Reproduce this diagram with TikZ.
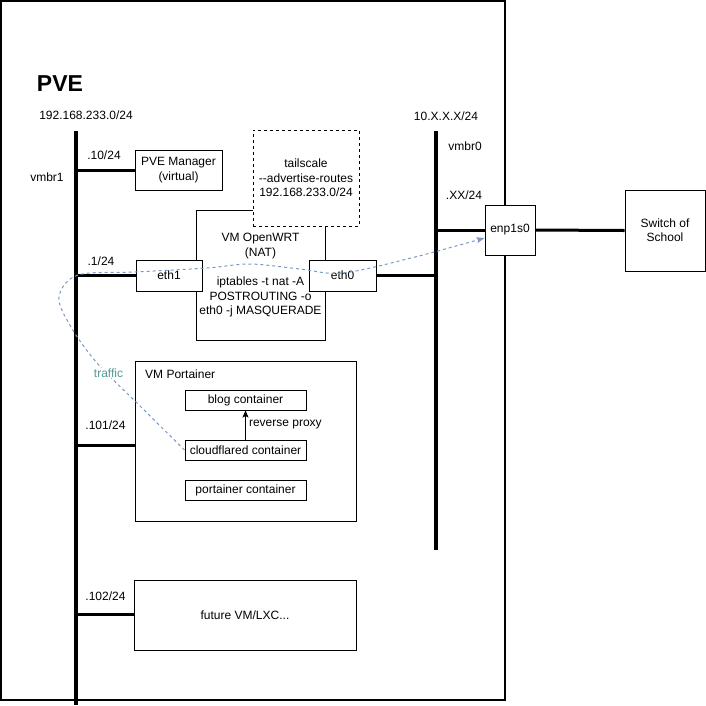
\documentclass[tikz,border=0pt]{standalone}
\usepackage{fontspec}
\setmainfont{Liberation Sans}
\usetikzlibrary{arrows.meta}
\definecolor{flowblue}{RGB}{122,152,196}
\definecolor{flowteal}{RGB}{82,152,150}
\tikzstyle{box}=[rectangle, draw=black, line width=1pt, fill=white,
                 inner sep=0pt, align=center]

\begin{document}
\begin{tikzpicture}[x=1pt,y=-1pt,font=\fontsize{12}{14.4}\selectfont]
  \tikzstyle{bus}=[line width=4pt]
  \tikzstyle{link}=[line width=3pt]
  \tikzstyle{lables}=[inner sep=0pt]
  \useasboundingbox (0,0) rectangle (706,705);
  % host frame
  \draw[line width=1.5pt] (1,1) rectangle (505,700);
  \node[lables,font=\fontsize{23}{26}\selectfont\bfseries] (pvetitle) at (60,84) {PVE};
  % bridges
  \coordinate (vmbrtop) at (76,131);
  \coordinate (vmbrbot) at (76,705);
  \coordinate (wantop) at (436,131);
  \coordinate (wanbot) at (436,550);
  \draw[bus] (vmbrtop) -- (vmbrbot);
  \draw[bus] (wantop) -- (wanbot);
  \node[lables] (lannet) at (86,115) {192.168.233.0/24};
  \node[lables] (lanname) at (47,177) {vmbr1};
  \node[lables] (wannet) at (446,116) {10.X.X.X/24};
  \node[lables] (wanname) at (465,146) {vmbr0};
  \node[lables] (wanip) at (464,195) {.XX/24};
  % boxes
  \node (manager) at (178.5,170) [box,minimum width=87pt,minimum height=40pt] {PVE Manager\\(virtual)};
  \node (openwrt) at (260.5,275) [box,minimum width=129pt,minimum height=130pt] {};
  \node (tailscale) at (306,178) [box,dashed,dash pattern=on 3pt off 3pt,minimum width=106pt,minimum height=96pt] {tailscale\\-{}-advertise-routes\\192.168.233.0/24};
  \node[lables,align=center] (wrtname) at (260.5,246) {VM OpenWRT\\(NAT)};
  \node[lables,align=center] (wrtrule) at (260.5,297) {iptables -t nat -A\\POSTROUTING -o\\eth0 -j MASQUERADE};
  \node (ethone) at (169,275.5) [box,minimum width=66pt,minimum height=31pt] {eth1};
  \node (ethzero) at (342.5,275.5) [box,minimum width=67pt,minimum height=31pt] {eth0};
  \node (enp) at (510,230) [box,minimum width=50pt,minimum height=50pt] {enp1s0};
  \node (switch) at (665,230.5) [box,minimum width=80pt,minimum height=81pt] {Switch of\\School};
  \node (portainer) at (245.5,441) [box,minimum width=221pt,minimum height=160pt] {};
  \node[lables,anchor=west] (portname) at (145,374) {VM Portainer};
  \node (blog) at (245.5,400) [box,minimum width=121pt,minimum height=20pt] {blog container};
  \node (cloud) at (245.5,450) [box,minimum width=121pt,minimum height=20pt] {cloudflared container};
  \node (portc) at (245.5,490) [box,minimum width=121pt,minimum height=20pt] {portainer container};
  \node (future) at (245,615) [box,minimum width=222pt,minimum height=70pt] {future VM/LXC...};
  % links to vmbr1
  \coordinate (tapmgr) at (76,170);
  \coordinate (tapwrt) at (76,275.5);
  \coordinate (tapport) at (76,445);
  \coordinate (tapfut) at (76,614);
  \draw[link] (tapmgr) -- (tapmgr -| manager.west);
  \draw[link] (tapwrt) -- (ethone.west);
  \draw[link] (tapport) -- (tapport -| portainer.west);
  \draw[link] (tapfut) -- (tapfut -| future.west);
  \node[lables] (ipmgr) at (104,155) {.10/24};
  \node[lables] (ipwrt) at (101,261) {.1/24};
  \node[lables] (ipport) at (105.5,425) {.101/24};
  \node[lables] (ipfut) at (105.5,596) {.102/24};
  % links to vmbr0 and outside
  \coordinate (tapeth) at (436,275.5);
  \coordinate (tapenp) at (436,230);
  \draw[link] (ethzero.east) -- (tapeth);
  \draw[link] (tapenp) -- (enp.west);
  \draw[link] (enp.east) -- (switch.west);
  % proxy
  \draw[line width=1pt,-{Stealth[length=7pt,width=6pt,inset=1.5pt]}] (cloud.north) -- (blog.south)
    node[lables,midway,right=3pt] (proxylabel) {reverse proxy};
  % traffic path
  \draw[flowblue,line width=1pt,dashed,dash pattern=on 3pt off 3pt,
        -{Stealth[length=8pt,width=6pt,inset=1.5pt]}]
    plot[smooth,tension=0.55] coordinates {(cloud.west) (137,403) (97,363) (71,327) (59,297) (78,275) (135,272) (207,268) (250,264) (300,269) (343,273) (415,257) ([yshift=-8pt]enp.west)};
  \node[lables,fill=white,text=flowteal,inner sep=1pt] (trafficlabel) at (108.5,373) {traffic};
\end{tikzpicture}
\end{document}
